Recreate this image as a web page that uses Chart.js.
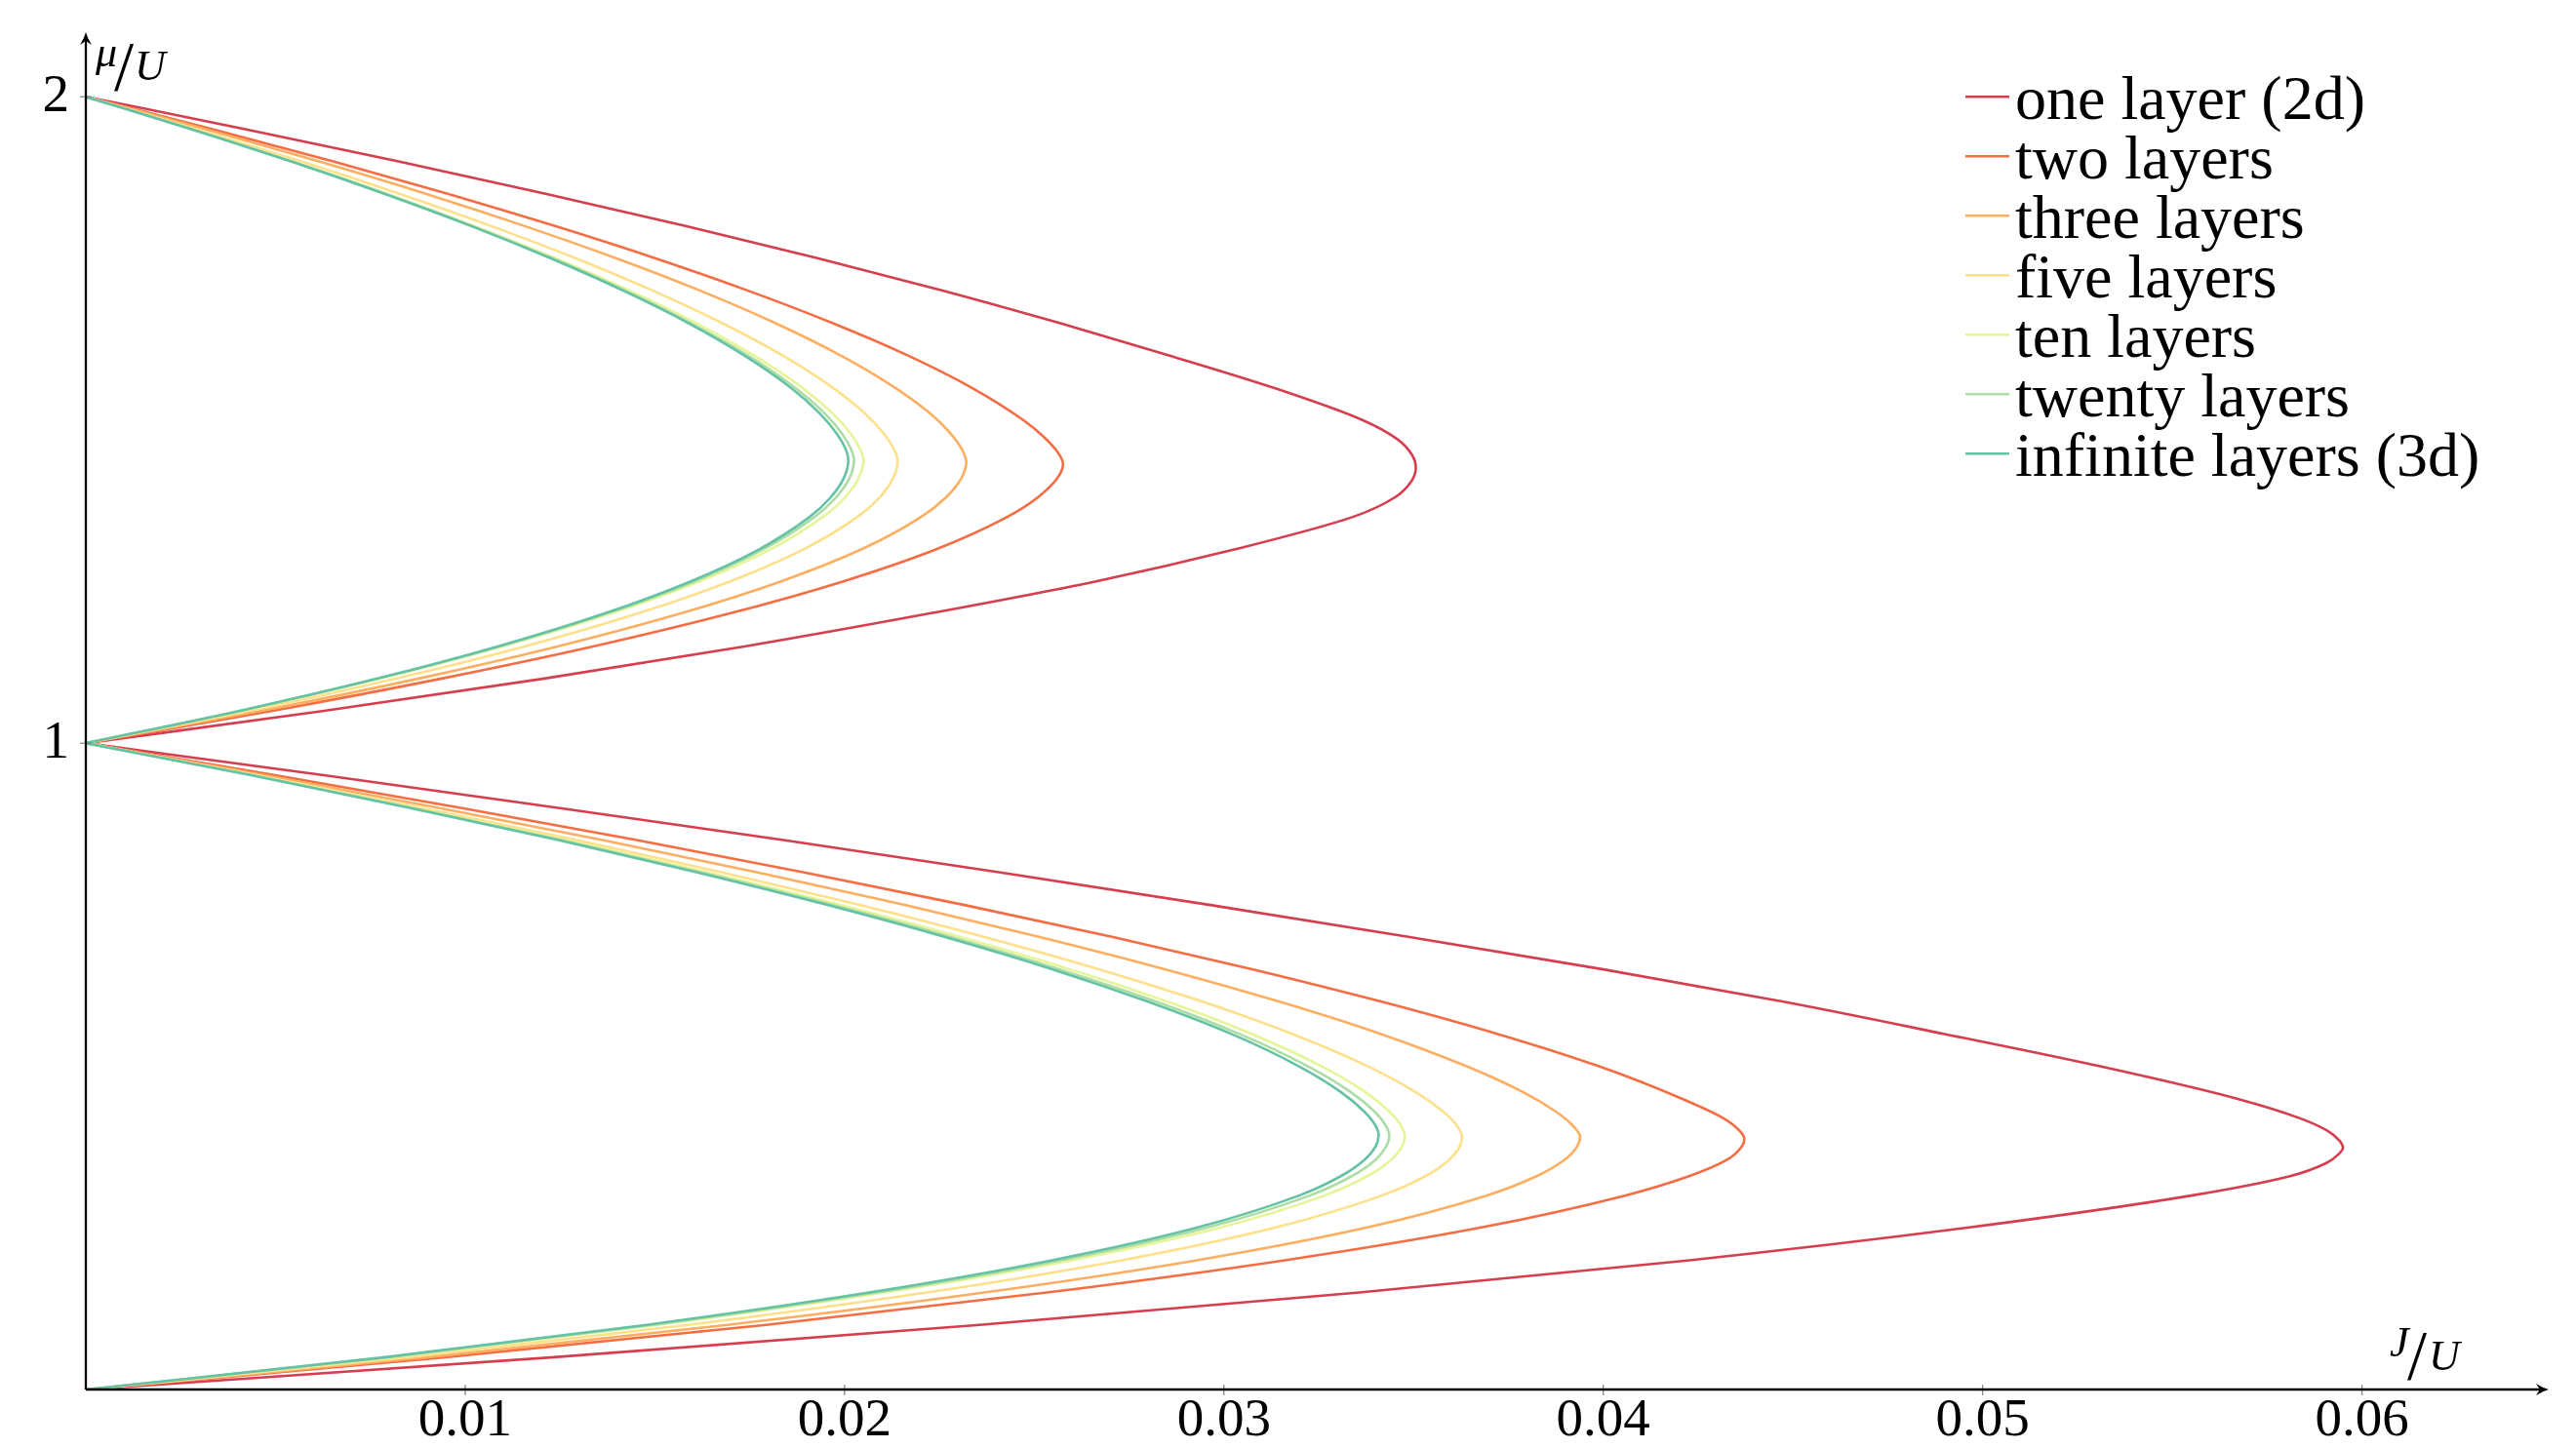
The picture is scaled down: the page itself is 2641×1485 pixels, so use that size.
<!DOCTYPE html>
<html>
<head>
<meta charset="utf-8">
<script src="https://cdn.jsdelivr.net/npm/chart.js@4.4.1/dist/chart.umd.min.js"></script>
<style>
  html, body { margin: 0; padding: 0; background: #ffffff; }
  canvas { display: block; }
</style>
</head>
<body>
<canvas id="c" width="2641" height="1485"></canvas>
<script>
// ---------- data ----------
// Each curve: J/U against mu/U; the null entry separates the n=1 and n=2 Mott lobes.
const seriesNames = ['one layer (2d)', 'two layers', 'three layers', 'five layers', 'ten layers', 'twenty layers', 'infinite layers (3d)'];

const oneLayerMu = [0, .05, .1, .15, .2, .25, .3, .33, .35, .365, .374, .385, .40, .42, .45, .5, .55, .6, .65, .7, .75, .8, .85, .9, .95, 1, 1,
  1, 1.05, 1.1, 1.15, 1.2, 1.25, 1.3, 1.35, 1.38, 1.405, 1.426, 1.445, 1.47, 1.5, 1.55, 1.6, 1.65, 1.7, 1.75, 1.8, 1.85, 1.9, 1.95, 2];
const oneLayerJ = [0, .01234, .02356, .03357, .04228, .04955, .0555, .0581, .05905, .0594, .0595, .05941, .0591, .05835, .0567, .0531, .0490, .04475, .0400, .0349, .0296, .02411, .01839, .01245, .00632, 0, null,
  0, .00628, .01209, .0174, .02218, .0266, .0303, .0334, .0345, .03494, .03506, .03497, .03458, .03365, .0313, .02855, .02567, .02261, .01931, .01581, .01212, .00824, .0042, 0];

const twoLayersMu = [0, .05, .1, .15, .2, .25, .3, .33, .355, .375, .3877, .40, .42, .45, .5, .55, .6, .65, .7, .75, .8, .85, .9, .95, 1, 1,
  1, 1.05, 1.1, 1.15, 1.2, 1.25, 1.3, 1.35, 1.38, 1.41, 1.4317, 1.45, 1.475, 1.5, 1.55, 1.6, 1.65, 1.7, 1.75, 1.8, 1.85, 1.9, 1.95, 2];
const twoLayersJ = [0, .00948, .01793, .02533, .03161, .03672, .04057, .04226, .04325, .04364, .04372, .0436, .04316, .04207, .03989, .03722, .03416, .03077, .02708, .02313, .01894, .01452, .00988, .00503, 0, null,
  0, .00492, .00938, .0134, .01693, .01995, .02242, .02429, .02509, .02561, .02576, .02562, .02523, .02471, .02335, .02166, .01968, .01746, .01502, .01237, .00954, .00652, .00334, 0];

const threeLayersMu = [0, .05, .1, .15, .2, .25, .3, .33, .355, .375, .391, .41, .43, .46, .5, .55, .6, .65, .7, .75, .8, .85, .9, .95, 1, 1,
  1, 1.05, 1.1, 1.15, 1.2, 1.25, 1.3, 1.35, 1.38, 1.41, 1.435, 1.455, 1.48, 1.51, 1.55, 1.6, 1.65, 1.7, 1.75, 1.8, 1.85, 1.9, 1.95, 2];
const threeLayersJ = [0, .00902, .01692, .02368, .02929, .03372, .03692, .03824, .03897, .0393, .03939, .03917, .03875, .03789, .0364, .03414, .03147, .02846, .02515, .02156, .01771, .01362, .00929, .00475, 0, null,
  0, .00462, .00878, .01246, .01564, .01831, .02045, .02202, .02267, .02308, .02321, .02309, .02278, .02226, .02133, .01989, .01817, .0162, .01399, .01157, .00896, .00615, .00316, 0];

const fiveLayersMu = [0, .05, .1, .15, .2, .25, .3, .33, .355, .375, .391, .41, .43, .46, .5, .55, .6, .65, .7, .75, .8, .85, .9, .95, 1, 1,
  1, 1.05, 1.1, 1.15, 1.2, 1.25, 1.3, 1.35, 1.38, 1.41, 1.436, 1.455, 1.48, 1.51, 1.55, 1.6, 1.65, 1.7, 1.75, 1.8, 1.85, 1.9, 1.95, 2];
const fiveLayersJ = [0, .0085, .01589, .02216, .02731, .03132, .03416, .03531, .03593, .03621, .03628, .03612, .03578, .03506, .0338, .03181, .02944, .02672, .02369, .02037, .01678, .01294, .00886, .00454, 0, null,
  0, .00432, .00819, .01159, .01452, .01697, .01892, .02034, .02092, .02128, .0214, .0213, .02102, .02054, .01969, .01836, .01677, .01495, .01292, .01069, .00827, .00568, .00292, 0];

const tenLayersMu = [0, .05, .1, .15, .2, .25, .3, .33, .355, .375, .392, .41, .43, .46, .5, .55, .6, .65, .7, .75, .8, .85, .9, .95, 1, 1,
  1, 1.05, 1.1, 1.15, 1.2, 1.25, 1.3, 1.35, 1.38, 1.41, 1.437, 1.455, 1.48, 1.51, 1.55, 1.6, 1.65, 1.7, 1.75, 1.8, 1.85, 1.9, 1.95, 2];
const tenLayersJ = [0, .00805, .01508, .02106, .026, .02987, .03265, .03378, .0344, .03469, .03477, .03465, .03436, .03373, .03258, .03074, .02852, .02595, .02306, .01987, .0164, .01267, .00869, .00446, 0, null,
  0, .00409, .00776, .011, .01381, .01616, .01805, .01943, .02001, .02037, .0205, .02041, .02015, .01969, .01888, .01761, .01609, .01434, .01239, .01025, .00794, .00545, .0028, 0];

const twentyLayersMu = [0, .05, .1, .15, .2, .25, .3, .33, .355, .375, .393, .41, .43, .46, .5, .55, .6, .65, .7, .75, .8, .85, .9, .95, 1, 1,
  1, 1.05, 1.1, 1.15, 1.2, 1.25, 1.3, 1.35, 1.38, 1.41, 1.438, 1.455, 1.48, 1.51, 1.55, 1.6, 1.65, 1.7, 1.75, 1.8, 1.85, 1.9, 1.95, 2];
const twentyLayersJ = [0, .00797, .01493, .02084, .02571, .02953, .03226, .03337, .03399, .03427, .03436, .03425, .03397, .03335, .03222, .03041, .02822, .02567, .02281, .01966, .01623, .01254, .0086, .00442, 0, null,
  0, .00407, .00771, .01093, .0137, .01602, .01786, .01921, .01977, .02013, .02025, .02017, .01992, .01948, .01869, .01745, .01595, .01423, .01231, .01019, .00789, .00542, .00279, 0];

const infLayersMu = [0, .05, .1, .15, .2, .25, .3, .33, .355, .375, .3937, .41, .43, .46, .5, .55, .6, .65, .7, .75, .8, .85, .9, .95, 1, 1,
  1, 1.05, 1.1, 1.15, 1.2, 1.25, 1.3, 1.35, 1.38, 1.41, 1.438, 1.455, 1.48, 1.51, 1.55, 1.6, 1.65, 1.7, 1.75, 1.8, 1.85, 1.9, 1.95, 2];
const infLayersJ = [0, .00789, .01478, .02064, .02547, .02926, .03198, .03308, .0337, .03399, .03408, .03398, .0337, .03309, .03198, .0302, .028, .02549, .02265, .01952, .01612, .01245, .00853, .00439, 0, null,
  0, .00406, .00769, .01088, .01364, .01593, .01775, .01908, .01963, .01998, .0201, .02003, .01978, .01935, .01858, .01735, .01588, .01417, .01226, .01016, .00787, .00541, .00278, 0];

const xTicks = [0.01, 0.02, 0.03, 0.04, 0.05, 0.06];
const xTickLabels = ['0.01', '0.02', '0.03', '0.04', '0.05', '0.06'];
const yTicks = [1, 2];
const yTickLabels = ['1', '2'];

// ---------- styles ----------
const seriesColors = ['#d53e4f', '#f46d43', '#fdae61', '#fee08b', '#e6f598', '#abdda4', '#66c2a5'];
const seriesJ  = [oneLayerJ, twoLayersJ, threeLayersJ, fiveLayersJ, tenLayersJ, twentyLayersJ, infLayersJ];
const seriesMu = [oneLayerMu, twoLayersMu, threeLayersMu, fiveLayersMu, tenLayersMu, twentyLayersMu, infLayersMu];

const datasets = seriesNames.map((name, i) => ({
  label: name,
  data: seriesMu[i].map((m, k) => ({ x: seriesJ[i][k], y: m })),
  borderColor: seriesColors[i],
  backgroundColor: seriesColors[i],
  borderWidth: 2.6,
  pointRadius: 0,
  pointHoverRadius: 0,
  cubicInterpolationMode: 'monotone',
  spanGaps: false,
  fill: false,
  order: seriesNames.length - i
}));

const SERIF = '"Liberation Serif", "DejaVu Serif", serif';

const decor = {
  id: 'decor',
  afterDraw(chart) {
    const { ctx, chartArea: a, scales: { x, y } } = chart;
    const x0 = x.getPixelForValue(0), y0 = y.getPixelForValue(0);
    const seg = (x1, y1, x2, y2) => { ctx.beginPath(); ctx.moveTo(x1, y1); ctx.lineTo(x2, y2); ctx.stroke(); };
    ctx.save();
    // tick marks
    ctx.strokeStyle = '#8a8a8a'; ctx.lineWidth = 1.3;
    xTicks.forEach(v => { const px = x.getPixelForValue(v); seg(px, y0 - 5, px, y0 + 6); });
    yTicks.forEach(v => { const py = y.getPixelForValue(v); seg(x0 - 6, py, x0 + 6, py); });
    // axes
    ctx.strokeStyle = '#000'; ctx.fillStyle = '#000'; ctx.lineWidth = 2.3;
    const xt = a.right - 3, yt = a.top;
    seg(x0, y0, xt - 4, y0);
    seg(x0, y0, x0, yt + 4);
    // arrow heads
    ctx.beginPath();
    ctx.moveTo(xt, y0);
    ctx.quadraticCurveTo(xt - 6, y0 - 1.5, xt - 13, y0 - 6);
    ctx.lineTo(xt - 9, y0);
    ctx.lineTo(xt - 13, y0 + 6);
    ctx.quadraticCurveTo(xt - 6, y0 + 1.5, xt, y0);
    ctx.fill();
    ctx.beginPath();
    ctx.moveTo(x0, yt);
    ctx.quadraticCurveTo(x0 - 1.5, yt + 6, x0 - 6, yt + 13);
    ctx.lineTo(x0, yt + 9);
    ctx.lineTo(x0 + 6, yt + 13);
    ctx.quadraticCurveTo(x0 + 1.5, yt + 6, x0, yt);
    ctx.fill();
    // axis labels (nicefrac style)
    ctx.textAlign = 'left'; ctx.textBaseline = 'alphabetic';
    ctx.font = 'italic 44px ' + SERIF;
    ctx.fillText('\u03bc', 98, 68);
    ctx.fillText('U', 138, 82);
    ctx.fillText('J', 2450, 1391);
    ctx.fillText('U', 2490, 1405);
    ctx.font = '72px ' + SERIF;
    ctx.fillText('/', 117, 92);
    ctx.fillText('/', 2468, 1414);
    // legend
    ctx.font = '64px ' + SERIF;
    seriesNames.forEach((name, i) => {
      const yy = 99.3 + i * 61;
      ctx.strokeStyle = seriesColors[i]; ctx.lineWidth = 2.6;
      seg(2015, yy, 2060, yy);
      ctx.fillStyle = '#000';
      ctx.fillText(name, 2066, yy + 23);
    });
    ctx.restore();
  }
};

new Chart(document.getElementById('c').getContext('2d'), {
  type: 'line',
  data: { datasets },
  options: {
    indexAxis: 'y',
    responsive: false,
    animation: false,
    devicePixelRatio: 1,
    events: [],
    layout: { padding: { top: 33, right: 25, left: 0, bottom: 0 } },
    plugins: { legend: { display: false }, tooltip: { enabled: false } },
    scales: {
      x: {
        type: 'linear', position: 'bottom', min: 0, max: 0.065,
        grid: { display: false, drawTicks: false },
        border: { display: false },
        afterBuildTicks: s => { s.ticks = xTicks.map(v => ({ value: v })); },
        afterFit: s => { s.height = 60; s.paddingLeft = 0; s.paddingRight = 0; },
        ticks: {
          autoSkip: false, maxRotation: 0, padding: 0, color: '#000',
          font: { family: SERIF, size: 55 },
          callback: (v, i) => xTickLabels[i]
        }
      },
      y: {
        type: 'linear', position: 'left', min: 0, max: 2.1,
        grid: { display: false, drawTicks: false },
        border: { display: false },
        afterBuildTicks: s => { s.ticks = yTicks.map(v => ({ value: v })); },
        afterFit: s => { s.width = 88; s.paddingTop = 0; s.paddingBottom = 0; },
        ticks: {
          autoSkip: false, padding: 17, color: '#000',
          font: { family: SERIF, size: 55 },
          callback: (v, i) => yTickLabels[i]
        }
      }
    }
  },
  plugins: [decor]
});
</script>
</body>
</html>
